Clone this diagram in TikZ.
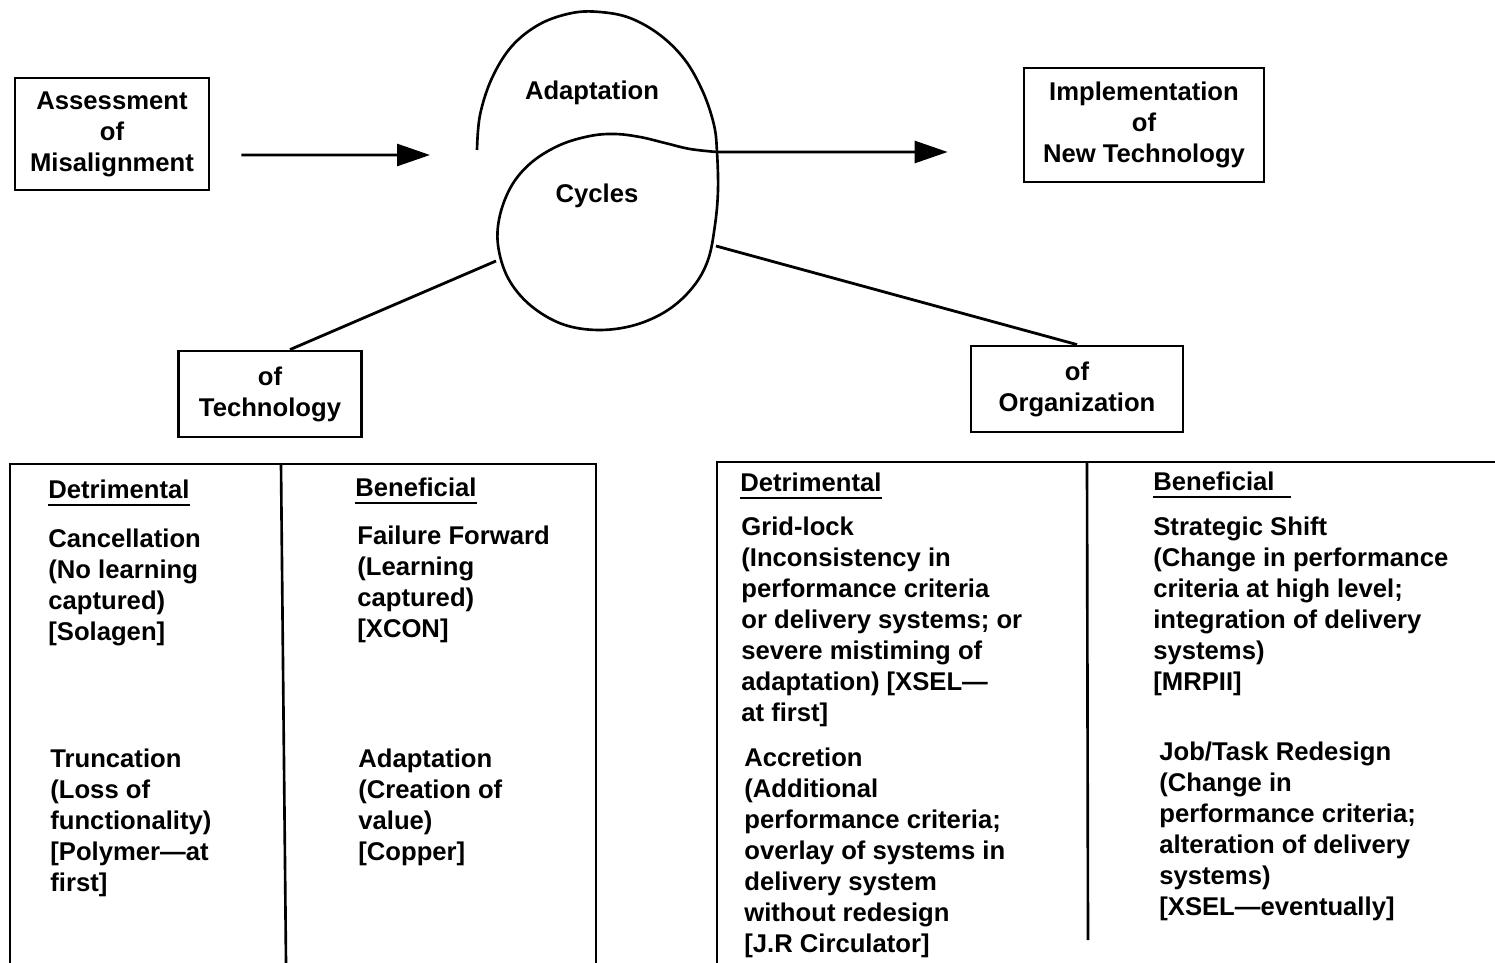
\documentclass[tikz,border=0pt]{standalone}
\usepackage{fontspec}
\setmainfont{Liberation Sans}
\usetikzlibrary{positioning,arrows.meta}

\begin{document}
\begin{tikzpicture}[
  x=0.02cm, y=-0.02cm,
  font=\fontsize{14.6}{17.6}\selectfont\bfseries,
  block/.style = {
    draw, rectangle, line width=1.6pt,
    inner sep=0pt, align=center
  },
  entry/.style = {anchor=north west, align=left, inner sep=0pt},
  frame/.style = {line width=1.5pt},
  uline/.style = {line width=1.4pt},
  link/.style = {line width=1.6pt},
  flow/.style = {line width=1.6pt, -{Triangle[length=0.66cm, width=0.44cm]}}
]
\useasboundingbox (0,0) rectangle (1495,963);

\node[block, minimum width=3.88cm, minimum height=2.24cm] (assess) at (112,134) {Assessment\\of\\Misalignment};
\node[block, minimum width=4.8cm, minimum height=2.28cm] (implement) at (1144,125) {Implementation\\of\\New Technology};
\node[block, minimum width=3.66cm, minimum height=1.72cm] (tech) at (270,394) {of\\Technology};
\node[block, minimum width=4.24cm, minimum height=1.72cm] (org) at (1077,389) {of\\Organization};

\node (adapt) at (592,93) {Adaptation};
\node (cycles) at (597,196) {Cycles};

% the loop
\draw[line width=1.5pt] plot[smooth, tension=0.6] coordinates {
  (477,150) (480,115) (492,78) (512,46) (540,24) (572,13) (600,12)
  (630,18) (660,35) (685,60) (703,92) (714,125) (717,152) (718,190)
  (715,225) (708,260) (693,287) (668,310) (635,325) (598,330) (562,324)
  (530,305) (508,278) (498,245) (500,215) (512,185) (532,162) (560,145)
  (590,136) (615,134) (640,137) (665,143) (690,149) (717,152)};
\coordinate (loopin) at (430,155);
\coordinate (loopout) at (717,152);
\coordinate (cycleft) at (496,261);
\coordinate (cycright) at (716,246);

\draw[flow] ([xshift=0.62cm, yshift=-0.42cm]assess.east) -- (loopin);
\draw[flow] (loopout) -- ([xshift=-1.5cm, yshift=-0.54cm]implement.west);
\draw[link] (cycleft) -- ([xshift=0.4cm]tech.north);
\draw[link] (cycright) -- (org.north);

% technology table
\draw[frame] (10,963) -- (10,464) -- (596,464) -- (596,963);
\draw[frame] (281,464) -- (286,963);

\node[entry] (techdet) at (48,480) {Detrimental};
\draw[uline] ([yshift=-3pt]techdet.south west) -- ([yshift=-3pt]techdet.south east);
\node[entry] (cancel) at (48,529) {Cancellation\\(No learning\\captured)\\{[Solagen]}};
\node[entry] (truncate) at (50,749) {Truncation\\(Loss of\\functionality)\\{[Polymer---at}\\first]};

\node[entry] (techben) at (355,478) {Beneficial};
\draw[uline] ([yshift=-3pt]techben.south west) -- ([yshift=-3pt]techben.south east);
\node[entry] (failfwd) at (357,526) {Failure Forward\\(Learning\\captured)\\{[XCON]}};
\node[entry] (adaptben) at (358,749) {Adaptation\\(Creation of\\value)\\{[Copper]}};

% organization table
\draw[frame] (717,963) -- (717,462) -- (1495,462);
\draw[frame] (1087,462) -- (1088,940);

\node[entry] (orgdet) at (740,473) {Detrimental};
\draw[uline] ([yshift=-3pt]orgdet.south west) -- ([yshift=-3pt]orgdet.south east);
\node[entry] (gridlock) at (741,517) {Grid-lock\\(Inconsistency in\\performance criteria\\or delivery systems; or\\severe mistiming of\\adaptation) [XSEL---\\at first]};
\node[entry] (accretion) at (744,748) {Accretion\\(Additional\\performance criteria;\\overlay of systems in\\delivery system\\without redesign\\{[J.R Circulator]}};

\node[entry] (orgben) at (1153,472) {Beneficial};
\draw[uline] ([yshift=-3pt]orgben.south west) -- ([xshift=0.32cm, yshift=-3pt]orgben.south east);
\node[entry] (shift) at (1153,517) {Strategic Shift\\(Change in performance\\criteria at high level;\\integration of delivery\\systems)\\{[MRPII]}};
\node[entry] (redesign) at (1159,742) {Job/Task Redesign\\(Change in\\performance criteria;\\alteration of delivery\\systems)\\{[XSEL---eventually]}};

\end{tikzpicture}
\end{document}
